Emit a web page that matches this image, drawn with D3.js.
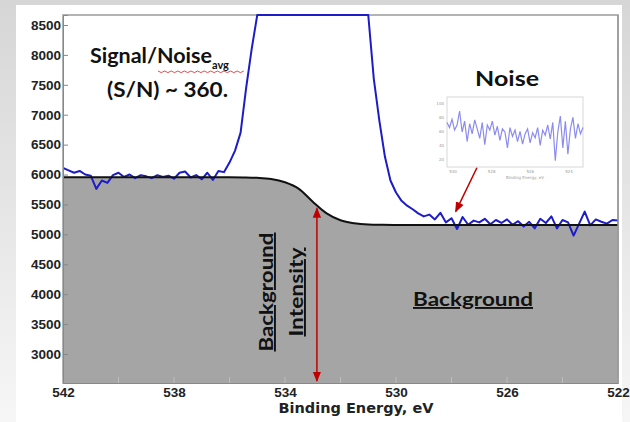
<!DOCTYPE html>
<html>
<head>
<meta charset="utf-8">
<script src="https://cdn.jsdelivr.net/npm/d3@7"></script>
<style>
  html, body { margin: 0; padding: 0; }
  body { width: 630px; height: 422px; overflow: hidden; }
</style>
</head>
<body>
<div id="chart"></div>
<script>
// ── XPS O 1s spectrum with background & noise annotation ──────────
// binding energy (eV), 0.2 eV steps, 542 -> 522
const energies = d3.range(0, 101).map(i => +(542 - i * 0.2).toFixed(1));

// measured counts (peak saturates above the top of the plot)
const counts = [
  6110, 6070, 6030, 6060, 6000, 5980, 5760, 5900, 5860, 5990,
  6030, 5960, 6000, 5940, 5990, 5970, 5940, 5990, 5960, 5980,
  5930, 6030, 6050, 5950, 5990, 5920, 6030, 5910, 6060, 6040,
  6200, 6400, 6700, 7450, 8100, 8900, 9500, 9500, 9500, 9500,
  9500, 9500, 9500, 9500, 9500, 9500, 9500, 9500, 9500, 9500,
  9500, 9500, 9500, 9500, 9500, 8700, 7600, 6900, 6300, 5900,
  5700, 5560, 5480, 5420, 5350, 5300, 5330, 5250, 5360, 5200,
  5270, 5090, 5290, 5160, 5230, 5200, 5260, 5170, 5240, 5190,
  5250, 5160, 5220, 5130, 5210, 5100, 5260, 5190, 5300, 5100,
  5240, 5200, 4980, 5180, 5380, 5150, 5250, 5210, 5180, 5240,
  5230
];

// fitted background (Shirley-type step)
const bgEnergies = [542, 540, 538, 536, 535.5, 535, 534.5, 534, 533.5, 533, 532.5, 532, 531.5, 531, 530.5, 530, 528, 526, 524, 522];
const bgCounts   = [5955, 5955, 5955, 5955, 5952, 5945, 5925, 5870, 5760, 5545, 5350, 5235, 5185, 5165, 5160, 5158, 5155, 5155, 5155, 5155];

// zoomed-in noise for the inset
const insetNoise = [
  70, 62, 75, 58, 66, 88, 55, 72, 40, 68, 52, 74, 60, 45, 70, 35, 66, 58, 72, 50,
  64, 42, 60, 55, 30, 62, 48, 58, 40, 56, 36, 52, 60, 38, 54, 46, 62, 34, 58, 50,
  66, 44, 70, 10, 55, 80, 30, 72, 20, 60, 78, 45, 68, 52, 62
];
const insetXTicks = ["530", "528", "526", "524"];
const insetYTicks = ["20", "40", "60", "80", "100"];

const yTicks = [3000, 3500, 4000, 4500, 5000, 5500, 6000, 6500, 7000, 7500, 8000, 8500];
const xTicks = [542, 538, 534, 530, 526, 522];
const xMinorTicks = [540, 536, 532, 528, 524];

// annotation anchors (data coordinates)
const bgArrowE = 532.85, bgArrowTop = 5470;
const noiseArrow = { from: [527.08, 6117], to: [527.85, 5380] };

const width = 630, height = 422;
const margin = { top: 15, right: 12, bottom: 39, left: 63 };
const innerW = width - margin.left - margin.right;
const innerH = height - margin.top - margin.bottom;

const svg = d3.select("#chart").append("svg")
  .attr("width", width).attr("height", height)
  .style("font-family", "'DejaVu Sans', sans-serif");

const defs = svg.append("defs");
const grad = defs.append("linearGradient").attr("id", "pagebg")
  .attr("x1", 0).attr("y1", 0).attr("x2", 0).attr("y2", 1);
grad.append("stop").attr("offset", "0%").attr("stop-color", "#d6d6d6");
grad.append("stop").attr("offset", "100%").attr("stop-color", "#f6f6f6");

// clip a touch above the top so the saturated peak sits on the frame
defs.append("clipPath").attr("id", "plotclip")
  .append("rect").attr("y", -1.5).attr("width", innerW).attr("height", innerH + 1.5);

["arrowEnd", "arrowStart"].forEach((id, i) => {
  defs.append("marker").attr("id", id)
    .attr("viewBox", "0 0 10 10").attr("refX", 9).attr("refY", 5)
    .attr("markerWidth", 7).attr("markerHeight", 7)
    .attr("orient", i === 0 ? "auto" : "auto-start-reverse")
    .append("path").attr("d", "M0,1 L10,5 L0,9 Z").attr("fill", "#c00000");
});

// page background + white slide panel
svg.append("rect").attr("width", width).attr("height", height).attr("fill", "url(#pagebg)");
svg.append("rect").attr("x", 16).attr("y", 5).attr("width", 606).attr("height", height - 5)
  .attr("fill", "#fff");

const g = svg.append("g").attr("transform", `translate(${margin.left},${margin.top})`);

const x = d3.scaleLinear().domain([542, 522]).range([0, innerW]);
const y = d3.scaleLinear().domain([2515, 8667]).range([innerH, 0]).clamp(true);

// frame
g.append("rect").attr("width", innerW).attr("height", innerH)
  .attr("fill", "none").attr("stroke", "#9a9a9a").attr("stroke-width", 1.5);

const plot = g.append("g").attr("clip-path", "url(#plotclip)");

// background area
const bgData = bgEnergies.map((e, i) => ({ e, v: bgCounts[i] }));
plot.append("path").datum(bgData)
  .attr("fill", "#a5a5a5")
  .attr("d", d3.area().x(d => x(d.e)).y0(innerH).y1(d => y(d.v)).curve(d3.curveMonotoneX));

// inner ticks along bottom
g.append("g").selectAll("line").data(xTicks.concat(xMinorTicks)).join("line")
  .attr("x1", d => x(d)).attr("x2", d => x(d))
  .attr("y1", innerH).attr("y2", innerH - 6)
  .attr("stroke", "#bdbdbd").attr("stroke-width", 1);

// spectrum
const specData = energies.map((e, i) => ({ e, v: counts[i] }));
plot.append("path").datum(specData)
  .attr("fill", "none").attr("stroke", "#1c1cc8").attr("stroke-width", 2)
  .attr("stroke-linejoin", "round")
  .attr("d", d3.line().x(d => x(d.e)).y(d => y(d.v)));

// background line
plot.append("path").datum(bgData)
  .attr("fill", "none").attr("stroke", "#111").attr("stroke-width", 2)
  .attr("d", d3.line().x(d => x(d.e)).y(d => y(d.v)).curve(d3.curveMonotoneX));

// right edge of frame stays on top of the fill
g.append("line").attr("x1", innerW).attr("x2", innerW).attr("y1", 0).attr("y2", innerH)
  .attr("stroke", "#9a9a9a").attr("stroke-width", 1.5);

// axes
const yAxis = g.append("g")
  .call(d3.axisLeft(y).tickValues(yTicks).tickSize(-5).tickPadding(8).tickFormat(d3.format("d")));
yAxis.select(".domain").attr("stroke", "#888");
yAxis.selectAll(".tick line").attr("stroke", "#888");
yAxis.selectAll("text").style("font-size", "13.5px").style("font-weight", "bold").attr("fill", "#222")
  .attr("x", -2);

const xAxis = g.append("g").attr("transform", `translate(0,${innerH})`)
  .call(d3.axisBottom(x).tickValues(xTicks).tickSize(0).tickPadding(4).tickFormat(d3.format("d")));
xAxis.select(".domain").attr("stroke", "#888");
xAxis.selectAll("text").style("font-size", "13.5px").style("font-weight", "bold").attr("fill", "#222");

g.append("text").attr("x", 293).attr("y", innerH + 30)
  .attr("text-anchor", "middle").style("font-size", "14.5px").style("font-weight", "bold")
  .attr("fill", "#222").text("Binding Energy, eV");

// red arrows
g.append("line")
  .attr("x1", x(bgArrowE)).attr("x2", x(bgArrowE))
  .attr("y1", y(bgArrowTop) + 2).attr("y2", innerH - 2)
  .attr("stroke", "#c00000").attr("stroke-width", 1.5)
  .attr("marker-start", "url(#arrowStart)").attr("marker-end", "url(#arrowEnd)");

g.append("line")
  .attr("x1", x(noiseArrow.from[0])).attr("y1", y(noiseArrow.from[1]))
  .attr("x2", x(noiseArrow.to[0])).attr("y2", y(noiseArrow.to[1]))
  .attr("stroke", "#c00000").attr("stroke-width", 1.5)
  .attr("marker-end", "url(#arrowEnd)");

// annotation text (Calibri-like)
const ann = g.append("g").style("font-family", "Lato, 'Open Sans', sans-serif")
  .style("font-weight", "bold").attr("fill", "#111");

const sn = ann.append("text").attr("x", 27).attr("y", 48).style("font-size", "21px");
sn.append("tspan").attr("textLength", 122).attr("lengthAdjust", "spacingAndGlyphs").text("Signal/Noise");
sn.append("tspan").attr("dy", 6).style("font-size", "11px").text("avg");
ann.append("text").attr("x", 44).attr("y", 82).style("font-size", "21px")
  .attr("textLength", 121).attr("lengthAdjust", "spacingAndGlyphs").text("(S/N) ~ 360.");

// spell-check squiggle under "Noise avg"
const sq = d3.range(0, 27).map(i => [95 + i * 3.3, 56 + (i % 2 ? 1.6 : 0)]);
ann.append("path").attr("d", d3.line()(sq)).attr("fill", "none")
  .attr("stroke", "#e02020").attr("stroke-width", 0.8);

ann.append("text").attr("x", 444).attr("y", 71).attr("text-anchor", "middle")
  .style("font-size", "21px").attr("textLength", 64).attr("lengthAdjust", "spacingAndGlyphs")
  .text("Noise");

ann.append("text").attr("x", 410).attr("y", 291).attr("text-anchor", "middle")
  .style("font-size", "19px").style("text-decoration", "underline")
  .attr("textLength", 120).attr("lengthAdjust", "spacingAndGlyphs").text("Background");

ann.append("text").attr("transform", `translate(210,277) rotate(-90)`)
  .attr("text-anchor", "middle").style("font-size", "19px")
  .style("text-decoration", "underline")
  .attr("textLength", 119).attr("lengthAdjust", "spacingAndGlyphs").text("Background");
ann.append("text").attr("transform", `translate(240,277) rotate(-90)`)
  .attr("text-anchor", "middle").style("font-size", "19px")
  .style("text-decoration", "underline")
  .attr("textLength", 89).attr("lengthAdjust", "spacingAndGlyphs").text("Intensity");

// inset
const ins = g.append("g").attr("transform", "translate(384,82)");
const iw = 136, ih = 70;
const ix = d3.scaleLinear().domain([0, insetNoise.length - 1]).range([0, iw]);
const iy = d3.scaleLinear().domain([0, 110]).range([ih, 0]);
const ixb = d3.scalePoint().domain(insetXTicks).range([6, iw - 14]);
ins.append("rect").attr("width", iw).attr("height", ih)
  .attr("fill", "#fff").attr("stroke", "#d8d8d8").attr("stroke-width", 1);
ins.append("path").datum(insetNoise)
  .attr("fill", "none").attr("stroke", "#8c8cf0").attr("stroke-width", 1.2)
  .attr("d", d3.line().x((d, i) => ix(i)).y(d => iy(d)));
ins.append("g").selectAll("text").data(insetYTicks).join("text")
  .attr("x", -3).attr("y", (d, i) => ih - 6 - i * 14).attr("text-anchor", "end")
  .style("font-size", "4px").attr("fill", "#999").text(d => d);
ins.append("g").selectAll("text").data(insetXTicks).join("text")
  .attr("x", d => ixb(d)).attr("y", ih + 6).attr("text-anchor", "middle")
  .style("font-size", "4px").attr("fill", "#999").text(d => d);
ins.append("text").attr("x", iw / 2 + 10).attr("y", ih + 12).attr("text-anchor", "middle")
  .style("font-size", "4px").attr("fill", "#999").text("Binding Energy, eV");
</script>
</body>
</html>
